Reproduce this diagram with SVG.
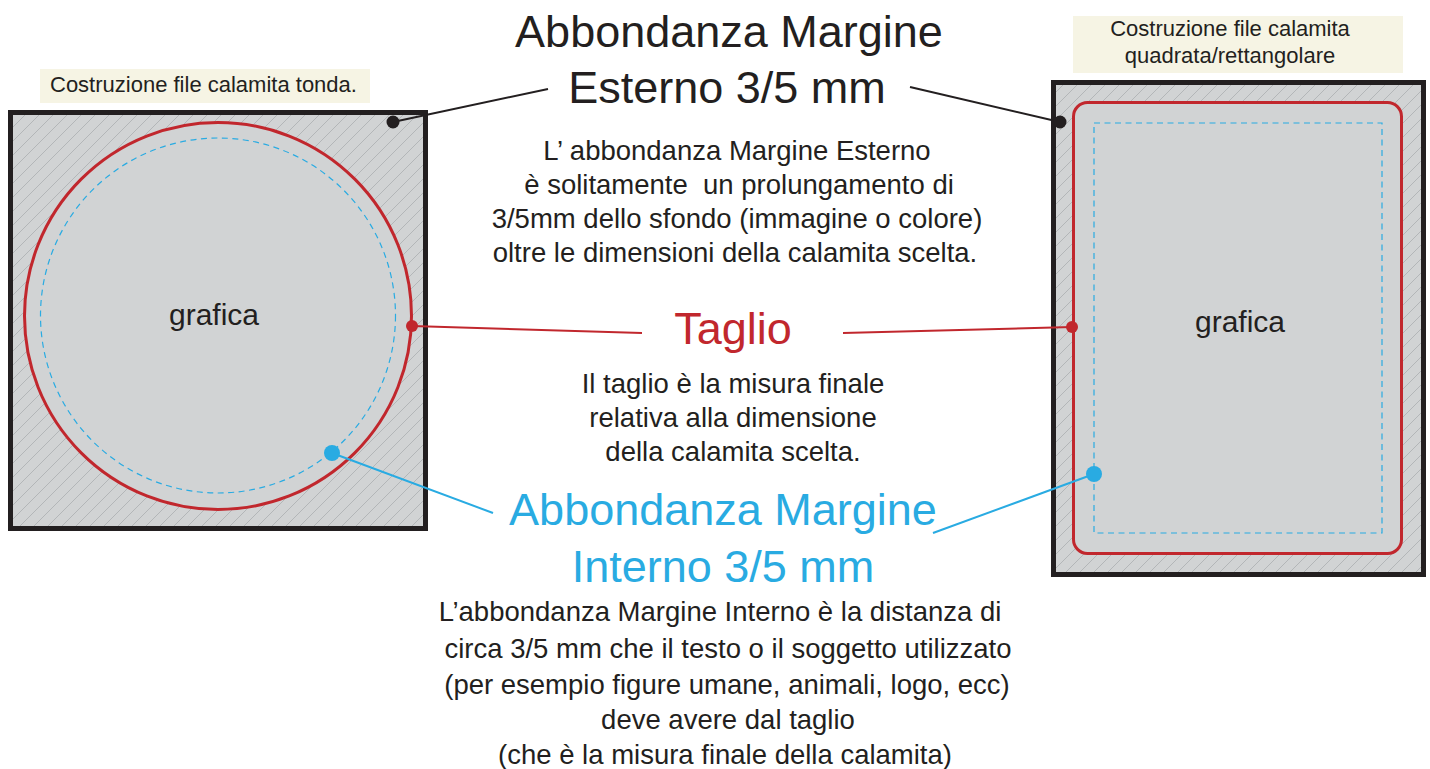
<svg xmlns="http://www.w3.org/2000/svg" width="1430" height="769" viewBox="0 0 1430 769">
<style>
text{font-family:"Liberation Sans",Arial,sans-serif;fill:#231f20}
.mid{text-anchor:middle}
.title{font-size:45px}
.body{font-size:27.5px}
.lbl{font-size:22px}
.graf{font-size:30px}
.red{fill:#c1272d}
.blue{fill:#29abe2}
.frame{stroke:#231f20;stroke-width:5}
.cut{fill:#d1d3d4;stroke:#c1272d;stroke-width:3}
.safe{fill:none;stroke:#29abe2;stroke-width:1.2;stroke-dasharray:6 4.5}
.ln{fill:none;stroke-width:2}
</style>
<defs>
<pattern id="hatch" patternUnits="userSpaceOnUse" width="14" height="14">
<rect width="14" height="14" fill="#d1d3d4"/>
<path d="M-1,15 L15,-1 M-4,4 L4,-4 M10,18 L18,10" stroke="#b0b2b4" stroke-width="0.9"/>
</pattern>
</defs>

<g id="label-tonda">
<rect x="40" y="69" width="330" height="34" fill="#f6f4e4"/>
<text class="lbl" x="50" y="92">Costruzione file calamita tonda.</text>
</g>

<g id="label-quadrata">
<rect x="1073" y="16" width="330" height="57" fill="#f6f4e4"/>
<text class="lbl mid" x="1230" y="36">Costruzione file calamita</text>
<text class="lbl mid" x="1230" y="63">quadrata/rettangolare</text>
</g>

<g id="calamita-tonda">
<rect class="frame" x="10.5" y="112.5" width="415" height="416" fill="url(#hatch)"/>
<circle class="cut" cx="218" cy="316" r="193.5"/>
<circle class="safe" cx="218" cy="315.5" r="177.5"/>
<text class="graf mid" x="214" y="325">grafica</text>
</g>

<g id="calamita-quadrata">
<rect class="frame" x="1053.5" y="82.5" width="370" height="492" fill="url(#hatch)"/>
<rect class="cut" x="1073.5" y="102.5" width="328" height="451" rx="14" ry="14" stroke-width="2.5"/>
<rect class="safe" x="1094" y="123" width="288" height="410"/>
<text class="graf mid" x="1240" y="332">grafica</text>
</g>

<g id="connectors">
<line class="ln" x1="393" y1="122" x2="548" y2="89" stroke="#231f20"/>
<line class="ln" x1="910" y1="87" x2="1060" y2="122" stroke="#231f20"/>
<line class="ln" x1="412" y1="326" x2="642" y2="333" stroke="#c1272d"/>
<line class="ln" x1="843" y1="333" x2="1072" y2="327" stroke="#c1272d"/>
<line class="ln" x1="332" y1="453" x2="493" y2="513" stroke="#29abe2"/>
<line class="ln" x1="933" y1="533" x2="1094" y2="474" stroke="#29abe2"/>
<circle cx="393" cy="122" r="6.5" fill="#231f20"/>
<circle cx="1060" cy="122" r="6.5" fill="#231f20"/>
<circle cx="412" cy="326" r="6" fill="#c1272d"/>
<circle cx="1072" cy="327" r="6" fill="#c1272d"/>
<circle cx="332" cy="453" r="8" fill="#29abe2"/>
<circle cx="1094" cy="474" r="8" fill="#29abe2"/>
</g>

<g id="esterno">
<text class="title mid" x="729" y="47">Abbondanza Margine</text>
<text class="title mid" x="727" y="103">Esterno 3/5 mm</text>
<text class="body mid" x="737" y="160">L’ abbondanza Margine Esterno</text>
<text class="body mid" x="739" y="194" style="white-space:pre">è solitamente  un prolungamento di</text>
<text class="body mid" x="737" y="228">3/5mm dello sfondo (immagine o colore)</text>
<text class="body mid" x="735" y="262">oltre le dimensioni della calamita scelta.</text>
</g>

<g id="taglio">
<text class="title mid red" x="733" y="344">Taglio</text>
<text class="body mid" x="733" y="393">Il taglio è la misura finale</text>
<text class="body mid" x="733" y="427">relativa alla dimensione</text>
<text class="body mid" x="733" y="461">della calamita scelta.</text>
</g>

<g id="interno">
<text class="title mid blue" x="723" y="525">Abbondanza Margine</text>
<text class="title mid blue" x="723" y="582">Interno 3/5 mm</text>
<text class="body mid" x="720" y="621">L’abbondanza Margine Interno è la distanza di</text>
<text class="body mid" x="728" y="658">circa 3/5 mm che il testo o il soggetto utilizzato</text>
<text class="body mid" x="727" y="694">(per esempio figure umane, animali, logo, ecc)</text>
<text class="body mid" x="728" y="729">deve avere dal taglio</text>
<text class="body mid" x="725" y="764">(che è la misura finale della calamita)</text>
</g>
</svg>
